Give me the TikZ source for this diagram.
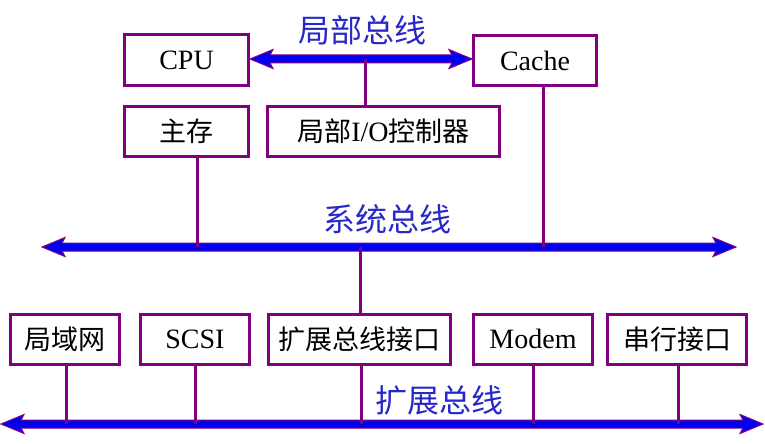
\documentclass[tikz,border=0pt]{standalone}
\usepackage{fontspec}
\setmainfont{Liberation Serif}
\newfontfamily\cjk{Noto Sans CJK SC}
\definecolor{boxpurple}{RGB}{128,0,128}
\definecolor{busblue}{RGB}{0,0,240}
\definecolor{lblblue}{RGB}{40,40,200}
\newcommand{\busshape}[3]{% xa, xb, y
  \filldraw[draw=boxpurple,fill=busblue,line width=1pt,line join=miter]
    (#1,#3) -- ({#1+23},{#3-9.5}) -- ({#1+20},{#3-4}) -- ({#2-20},{#3-4}) -- ({#2-23},{#3-9.5})
    -- (#2,#3) -- ({#2-23},{#3+9.5}) -- ({#2-20},{#3+4}) -- ({#1+20},{#3+4}) -- ({#1+23},{#3+9.5}) -- cycle;}
\begin{document}
\begin{tikzpicture}[x=1pt,y=-1pt,
  box/.style={draw=boxpurple,line width=3pt,fill=white,inner sep=0pt,minimum height=50pt,font=\fontsize{28}{28}\selectfont},
  conn/.style={draw=boxpurple,line width=3pt},
  cjkt/.style={font=\fontsize{27}{27}\selectfont\cjk},
  buslabel/.style={text=lblblue,font=\fontsize{32}{32}\selectfont\cjk,inner sep=0pt}]
\useasboundingbox (0,0) rectangle (765,444);
\fill[white] (0,0) rectangle (765,444);

% buses
\busshape{250}{472}{59}
\busshape{42}{736}{247}
\busshape{1}{763}{424}
\coordinate (lb) at (365,59);
\coordinate (sb1) at (197,247);
\coordinate (sb2) at (543,247);
\coordinate (sb3) at (360,247);
\coordinate (eb1) at (66,424);
\coordinate (eb2) at (195,424);
\coordinate (eb3) at (361,424);
\coordinate (eb4) at (533,424);
\coordinate (eb5) at (678,424);

% boxes
\node[box,minimum width=124pt] (cpu) at (186.5,60) {CPU};
\node[box,minimum width=123pt] (cache) at (535,60.5) {Cache};
\node[box,cjkt,minimum width=124pt] (mem) at (186.5,131) {主存};
\node[box,minimum width=232pt] (io) at (383.5,131) {{\fontsize{27}{27}\selectfont\cjk 局部}I/O{\fontsize{27}{27}\selectfont\cjk 控制器}};
\node[box,cjkt,minimum width=109pt] (lan) at (65,339) {局域网};
\node[box,minimum width=109pt] (scsi) at (195,339) {SCSI};
\node[box,cjkt,minimum width=182pt] (ext) at (359.5,339) {扩展总线接口};
\node[box,minimum width=119pt] (modem) at (533,339) {Modem};
\node[box,cjkt,minimum width=139pt] (ser) at (677,339) {串行接口};

% connectors
\draw[conn] (lb) -- (io.north -| lb);
\draw[conn] (mem.south -| sb1) -- (sb1);
\draw[conn] (cache.south -| sb2) -- (sb2);
\draw[conn] (sb3) -- (ext.north -| sb3);
\draw[conn] (lan.south -| eb1) -- (eb1);
\draw[conn] (scsi.south -| eb2) -- (eb2);
\draw[conn] (ext.south -| eb3) -- (eb3);
\draw[conn] (modem.south -| eb4) -- (eb4);
\draw[conn] (ser.south -| eb5) -- (eb5);

% labels
\node[buslabel] (l1) at (362,30) {局部总线};
\node[buslabel] (l2) at (387,219) {系统总线};
\node[buslabel] (l3) at (439,400) {扩展总线};
\end{tikzpicture}
\end{document}
